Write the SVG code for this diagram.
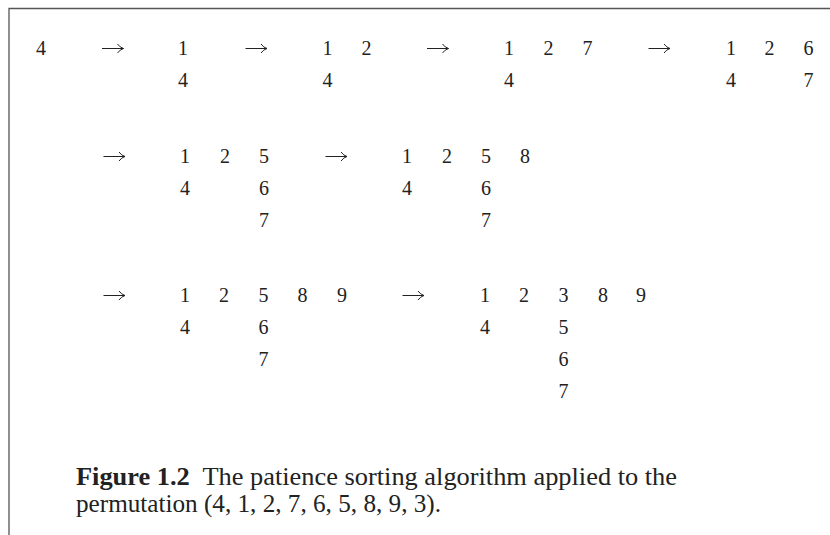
<svg xmlns="http://www.w3.org/2000/svg" width="830" height="535" viewBox="0 0 830 535">
<style>
.d{font-family:"Liberation Serif","Times New Roman",serif;font-size:20px;fill:#222;text-anchor:middle}
.c{font-family:"Liberation Serif","Times New Roman",serif;font-size:26px;fill:#222}
.b{font-weight:bold}
.frame{stroke:#555;stroke-width:1.3;fill:none}
.ar{stroke:#222;stroke-width:1;fill:none;marker-end:url(#head)}
</style>
<defs>
<marker id="head" markerUnits="userSpaceOnUse" markerWidth="10" markerHeight="12" refX="7" refY="5" orient="auto" overflow="visible">
<path d="M1,0.5 Q3.5,4 7,5 Q3.5,6 1,9.5" stroke="#222" stroke-width="1" fill="none"/>
</marker>
</defs>
<rect width="830" height="535" fill="#fff"/>
<path class="frame" d="M9,535 V8.5 H830"/>
<g id="s1"><text class="d" x="41" y="55">4</text></g>
<g id="s2"><text class="d" x="183" y="55">1</text><text class="d" x="183" y="87">4</text></g>
<g id="s3"><text class="d" x="327.5" y="55">1</text><text class="d" x="366.5" y="55">2</text><text class="d" x="327.5" y="87">4</text></g>
<g id="s4"><text class="d" x="509" y="55">1</text><text class="d" x="548.5" y="55">2</text><text class="d" x="587.5" y="55">7</text><text class="d" x="509" y="87">4</text></g>
<g id="s5"><text class="d" x="731" y="55">1</text><text class="d" x="769.5" y="55">2</text><text class="d" x="808.5" y="55">6</text><text class="d" x="731" y="87">4</text><text class="d" x="808.5" y="87">7</text></g>
<g id="s6"><text class="d" x="185" y="163">1</text><text class="d" x="225" y="163">2</text><text class="d" x="264" y="163">5</text><text class="d" x="185" y="195">4</text><text class="d" x="264" y="195">6</text><text class="d" x="264" y="227">7</text></g>
<g id="s7"><text class="d" x="407" y="163">1</text><text class="d" x="447" y="163">2</text><text class="d" x="486" y="163">5</text><text class="d" x="525" y="163">8</text><text class="d" x="407" y="195">4</text><text class="d" x="486" y="195">6</text><text class="d" x="486" y="227">7</text></g>
<g id="s8"><text class="d" x="185" y="302">1</text><text class="d" x="224" y="302">2</text><text class="d" x="263.5" y="302">5</text><text class="d" x="302.5" y="302">8</text><text class="d" x="342" y="302">9</text><text class="d" x="185" y="334">4</text><text class="d" x="263.5" y="334">6</text><text class="d" x="263.5" y="366">7</text></g>
<g id="s9"><text class="d" x="485" y="302">1</text><text class="d" x="524" y="302">2</text><text class="d" x="563.5" y="302">3</text><text class="d" x="603" y="302">8</text><text class="d" x="641" y="302">9</text><text class="d" x="485" y="334">4</text><text class="d" x="563.5" y="334">5</text><text class="d" x="563.5" y="366">6</text><text class="d" x="563.5" y="398">7</text></g>
<g id="connectors">
<path class="ar" d="M102,48.5 H123.5"/>
<path class="ar" d="M245.5,48.5 H267"/>
<path class="ar" d="M427,48.5 H448.5"/>
<path class="ar" d="M648.5,48.5 H670"/>
<path class="ar" d="M103.5,156.5 H125"/>
<path class="ar" d="M325.5,156.5 H347"/>
<path class="ar" d="M103.5,295.5 H125"/>
<path class="ar" d="M402.5,295.5 H424"/>
</g>
<g id="caption">
<text class="c" x="76" y="485" textLength="601" lengthAdjust="spacingAndGlyphs" xml:space="preserve"><tspan class="b">Figure 1.2</tspan>  The patience sorting algorithm applied to the</text>
<text class="c" x="76" y="512" textLength="365" lengthAdjust="spacingAndGlyphs">permutation (4, 1, 2, 7, 6, 5, 8, 9, 3).</text>
</g>
</svg>
